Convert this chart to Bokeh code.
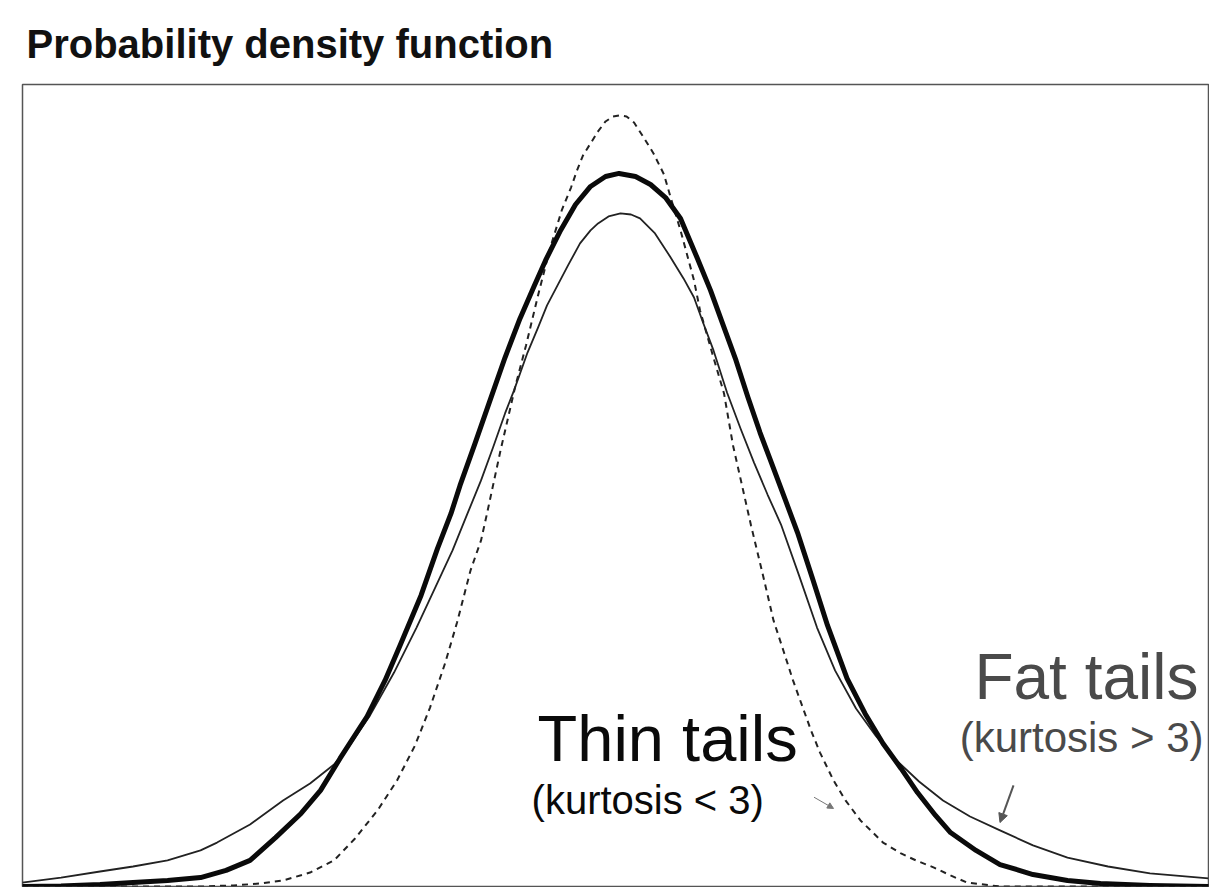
from bokeh.plotting import figure
from bokeh.models import Range1d, Label, Arrow, NormalHead
from bokeh.embed import file_html
from bokeh.resources import INLINE

# ---- data (x in standard-deviation units, y = density) ----
normal_x = [-3.99, -3.73, -3.47, -3.25, -3.02, -2.80, -2.63, -2.47, -2.30, -2.13, -2.00, -1.87,
            -1.69, -1.57, -1.47, -1.33, -1.22, -1.13, -1.07, -0.97, -0.87, -0.77, -0.67, -0.58,
            -0.50, -0.40, -0.30, -0.20, -0.10, -0.01, 0.10, 0.20, 0.30, 0.40, 0.51, 0.60, 0.68,
            0.77, 0.85, 0.93, 1.00, 1.10, 1.18, 1.28, 1.38, 1.51, 1.63, 1.75, 1.87, 1.98, 2.10,
            2.20, 2.37, 2.53, 2.75, 2.98, 3.20, 3.53, 3.92]
normal_y = [0.0000, 0.0003, 0.0011, 0.0022, 0.0034, 0.0050, 0.0090, 0.0146, 0.0274, 0.0409,
            0.0538, 0.0717, 0.0952, 0.1154, 0.1350, 0.1630, 0.1893, 0.2089, 0.2246, 0.2481,
            0.2722, 0.2962, 0.3181, 0.3354, 0.3506, 0.3674, 0.3819, 0.3920, 0.3976, 0.3993,
            0.3976, 0.3931, 0.3858, 0.3741, 0.3522, 0.3338, 0.3153, 0.2946, 0.2738, 0.2542,
            0.2386, 0.2162, 0.1982, 0.1725, 0.1462, 0.1165, 0.0969, 0.0801, 0.0661, 0.0526,
            0.0398, 0.0302, 0.0202, 0.0123, 0.0067, 0.0034, 0.0017, 0.0006, 0.0000]

fat_x = [-3.99, -3.73, -3.47, -3.25, -3.02, -2.80, -2.69, -2.47, -2.25, -2.07, -1.91, -1.82,
         -1.67, -1.51, -1.36, -1.22, -1.12, -1.02, -0.93, -0.85, -0.77, -0.71, -0.62, -0.55,
         -0.49, -0.42, -0.35, -0.27, -0.20, -0.15, -0.08, 0.00, 0.07, 0.13, 0.23, 0.33, 0.42,
         0.49, 0.55, 0.62, 0.71, 0.80, 0.89, 0.98, 1.07, 1.19, 1.31, 1.43, 1.57, 1.70, 1.82,
         1.99, 2.15, 2.33, 2.53, 2.75, 2.98, 3.25, 3.53, 3.92]
fat_y = [0.0022, 0.0050, 0.0084, 0.0112, 0.0146, 0.0202, 0.0246, 0.0347, 0.0482, 0.0577,
         0.0683, 0.0773, 0.0958, 0.1198, 0.1450, 0.1702, 0.1882, 0.2089, 0.2274, 0.2458,
         0.2649, 0.2778, 0.2990, 0.3130, 0.3254, 0.3366, 0.3478, 0.3601, 0.3674, 0.3713,
         0.3752, 0.3769, 0.3763, 0.3741, 0.3657, 0.3528, 0.3405, 0.3298, 0.3158, 0.3002,
         0.2766, 0.2565, 0.2374, 0.2195, 0.2027, 0.1742, 0.1450, 0.1210, 0.0997, 0.0846,
         0.0722, 0.0588, 0.0482, 0.0392, 0.0314, 0.0230, 0.0162, 0.0112, 0.0073, 0.0045]

thin_x = [-3.99, -3.13, -2.80, -2.58, -2.40, -2.25, -2.07, -1.91, -1.77, -1.62, -1.49, -1.37,
          -1.27, -1.17, -1.09, -1.00, -0.93, -0.89, -0.80, -0.70, -0.63, -0.55, -0.47, -0.39,
          -0.33, -0.29, -0.25, -0.20, -0.15, -0.10, -0.05, -0.01, 0.04, 0.09, 0.15, 0.22,
          0.29, 0.33, 0.40, 0.49, 0.53, 0.61, 0.69, 0.75, 0.81, 0.87, 0.95, 1.02, 1.09, 1.15,
          1.27, 1.33, 1.42, 1.50, 1.60, 1.75, 1.87, 1.97, 2.09, 2.20, 2.31, 2.53, 3.92]
thin_y = [0.0000, 0.0000, 0.0000, 0.0006, 0.0017, 0.0034, 0.0078, 0.0146, 0.0269, 0.0426,
          0.0594, 0.0790, 0.1002, 0.1249, 0.1478, 0.1770, 0.1938, 0.2089, 0.2442, 0.2806,
          0.3030, 0.3310, 0.3573, 0.3791, 0.3914, 0.4010, 0.4094, 0.4161, 0.4228, 0.4284,
          0.4312, 0.4318, 0.4312, 0.4278, 0.4200, 0.4105, 0.3987, 0.3870, 0.3674, 0.3394,
          0.3226, 0.2990, 0.2761, 0.2470, 0.2246, 0.2022, 0.1742, 0.1490, 0.1310, 0.1154,
          0.0874, 0.0750, 0.0594, 0.0482, 0.0370, 0.0246, 0.0185, 0.0146, 0.0106, 0.0062,
          0.0022, 0.0000, 0.0000]

title_text = "Probability density function"
thin_label = "Thin tails"
thin_sub = "(kurtosis < 3)"
fat_label = "Fat tails"
fat_sub = "(kurtosis > 3)"

FONT = "Liberation Sans"

p = figure(width=1209, height=887,
           x_range=Range1d(-3.987, 3.92), y_range=Range1d(0, 0.4491),
           output_backend="svg", toolbar_location=None,
           x_axis_location=None, y_axis_location=None,
           min_border_left=22, min_border_right=1, min_border_top=84, min_border_bottom=1)
p.grid.visible = False
p.background_fill_color = "white"
p.border_fill_color = "white"
p.outline_line_color = "#555555"
p.outline_line_width = 1.5

p.title.text = title_text
p.title.text_font = FONT
p.title.text_font_size = "40px"
p.title.text_font_style = "bold"
p.title.text_color = "#111111"
p.title.align = "left"
p.title.offset = 4
p.title.standoff = 38

p.line(thin_x, thin_y, line_color="#222222", line_width=2, line_dash="6 5")
p.line(fat_x, fat_y, line_color="#222222", line_width=1.8, line_join="round")
p.line(normal_x, normal_y, line_color="#0a0a0a", line_width=5, line_join="round",
       line_cap="round")

p.add_layout(Label(x=-0.553, y=0.0829, text=thin_label, text_font=FONT,
                   text_font_size="65px", text_color="#0a0a0a", text_align="left",
                   text_baseline="alphabetic"))
p.add_layout(Label(x=-0.593, y=0.0487, text=thin_sub, text_font=FONT,
                   text_font_size="40px", text_color="#0a0a0a",
                   text_align="left", text_baseline="alphabetic"))
p.add_layout(Label(x=3.853, y=0.1174, text=fat_label, text_font=FONT,
                   text_font_size="64px", text_color="#4a4a4a", text_align="right",
                   text_baseline="alphabetic"))
p.add_layout(Label(x=3.887, y=0.0832, text=fat_sub, text_font=FONT,
                   text_font_size="42px", text_color="#4a4a4a", text_align="right",
                   text_baseline="alphabetic"))

p.add_layout(Arrow(x_start=2.62, y_start=0.0566, x_end=2.53, y_end=0.0358,
                   line_color="#555555", line_width=2,
                   end=NormalHead(size=9, fill_color="#555555", line_color="#555555")))
p.add_layout(Arrow(x_start=1.29, y_start=0.0500, x_end=1.42, y_end=0.0437,
                   line_color="#777777", line_width=1,
                   end=NormalHead(size=6, fill_color="#777777", line_color="#777777")))

open("out.html", "w").write(file_html(p, INLINE))
